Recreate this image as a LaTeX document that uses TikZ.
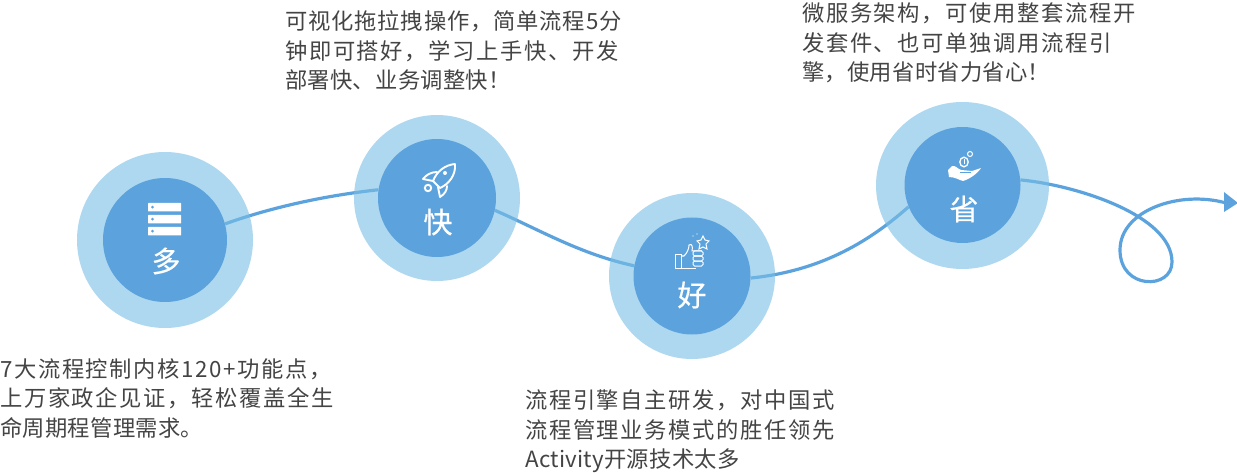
\documentclass[tikz,border=0pt]{standalone}
\usepackage{fontspec}
\setmainfont{Noto Sans CJK SC}
\newfontfamily\circfont{Noto Sans CJK SC}[FakeBold=0.5]
\newfontfamily\widefont{Noto Sans CJK SC}[LetterSpace=7.3]
\newfontfamily\midfont{Noto Sans CJK SC}[LetterSpace=3.8]
\newfontfamily\lastfont{Noto Sans CJK SC}[LetterSpace=1.2]
\usetikzlibrary{backgrounds,shapes.geometric}
\definecolor{ringblue}{HTML}{78BEE6}
\definecolor{coreblue}{HTML}{5CA3DE}
\definecolor{textgrey}{HTML}{444444}
\tikzset{
    ring/.style={circle,inner sep=0pt,fill=ringblue,fill opacity=0.6},
    core/.style={circle,inner sep=0pt,fill=coreblue},
    flow/.style={line width=3.2pt,color=coreblue},
    word/.style={text=white,font=\circfont\fontsize{29}{29}\selectfont,inner sep=0pt},
    note/.style={text=textgrey,align=left,anchor=north west,inner sep=0pt,font=\widefont\fontsize{22.3}{29.6}\selectfont},
    icon/.style={draw=white,line width=1.9pt,line join=round,line cap=round},
    iconfill/.style={fill=white,draw=none}
}
\begin{document}
\begin{tikzpicture}[x=1pt,y=-1pt]
    \useasboundingbox (0,0) rectangle (1237,473);
    % circles
    \node[ring,minimum size=176pt] (duoring) at (165,240) {};
    \node[core,minimum size=124pt] (duo) at (165,240) {};
    \node[ring,minimum size=166pt] (kuairing) at (437,198) {};
    \node[core,minimum size=118pt] (kuai) at (437,198) {};
    \node[ring,minimum size=166pt] (haoring) at (692,276) {};
    \node[core,minimum size=117pt] (hao) at (692,276) {};
    \node[ring,ellipse,minimum width=173pt,minimum height=167pt] (shengring) at (962.5,185.5) {};
    \node[core,minimum size=116pt] (sheng) at (962.5,185) {};
    \coordinate (tip) at (1226,203);
    % curve between circles
    \begin{scope}[on background layer]
        \draw[flow] (duo.15) .. controls (275,206) and (330,195) .. (kuai.172);
        \draw[flow] (kuai.-12) .. controls (540,230) and (580,254) .. (hao.170);
        \draw[flow] (hao.-2) .. controls (810,272) and (860,250) .. (sheng.-158);
        \draw[flow] (sheng.5) .. controls (1075,185) and (1172,215) .. (1172,262)
            .. controls (1172,290) and (1120,290) .. (1120,250)
            .. controls (1120,210) and (1180,190) .. (tip);
    \end{scope}
    \fill[coreblue] (1238,203) -- (1224,192) -- (1224,212) -- cycle;
    % words
    \node[word] (duoword) at (166,261) {多};
    \node[word] (kuaiword) at (438,222) {快};
    \node[word] (haoword) at (692,295) {好};
    \node[word] (shengword) at (964,209) {省};
    % server icon
    \foreach \y in {203,215,227}{
        \fill[white,rounded corners=0.5pt] (148,\y) rectangle (181,\y+8.5);
        \fill[coreblue] (152.5,\y+4.2) circle (1.5);
    }
    % rocket icon
    \draw[icon] (455,164) .. controls (445,165) and (437,171) .. (433,181)
        -- (440,188) .. controls (449,184) and (456,175) .. (455,164);
    \draw[icon] (437,172) .. controls (431,172) and (426,175) .. (423,179) -- (433,181);
    \draw[icon] (447,186) .. controls (447,190) and (445,194) .. (440,197) -- (438,187);
    \draw[icon] (428,188) circle (3.2);
    \fill[white] (445,173) circle (2);
    % thumb icon
    \begin{scope}[line width=1pt,draw=white]
        \draw (675,255) rectangle (681,268);
        \draw (681,256) -- (684,256) .. controls (687,253) and (689,249) .. (689,245)
            .. controls (692,243) and (693,247) .. (692,251) -- (702,251);
        \draw (681,268) -- (696,268);
        \foreach \y in {251,256,261}{
            \draw[rounded corners=1.5pt] (693,\y) rectangle (703,\y+5);
        }
        \draw (703,236) -- (705,240) -- (709,241) -- (706,244) -- (707,249) -- (703,247)
            -- (699,249) -- (700,244) -- (697,241) -- (701,240) -- cycle;
        \fill[white] (697,234) circle (0.7) (693,236) circle (0.7);
    \end{scope}
    % coin hand icon
    \draw[white,line width=1.3pt] (964,162) ellipse (4.2 and 4.8);
    \draw[white,line width=1pt] (970,154) circle (2.5);
    \fill[white] (963.5,159.5) rectangle (965,164.5);
    \fill[iconfill] (948,170) -- (952,166) .. controls (955,165) and (958,169) .. (961,170)
        -- (972,171) -- (981,168)
        .. controls (978,173) and (970,179) .. (963,181)
        .. controls (959,180) and (955,177) .. (949,177) -- cycle;
    \draw[coreblue,line width=0.9pt] (960,172.5) -- (971,172.5);
    % notes
    \node[note] (noteduo) at (0,358) {7大流程控制内核120+功能点，\\上万家政企见证，轻松覆盖全生\\\lastfont 命周期程管理需求。};
    \node[note] (notekuai) at (285,10.5) {\midfont 可视化拖拉拽操作，简单流程5分\\\widefont 钟即可搭好，学习上手快、开发\\\lastfont 部署快、业务调整快！};
    \node[note] (notehao) at (525,389.5) {流程引擎自主研发，对中国式\\流程管理业务模式的胜任领先\\\lastfont Activity开源技术太多};
    \node[note] (notesheng) at (802,2.5) {微服务架构，可使用整套流程开\\发套件、也可单独调用流程引\\\lastfont 擎，使用省时省力省心！};
\end{tikzpicture}
\end{document}
